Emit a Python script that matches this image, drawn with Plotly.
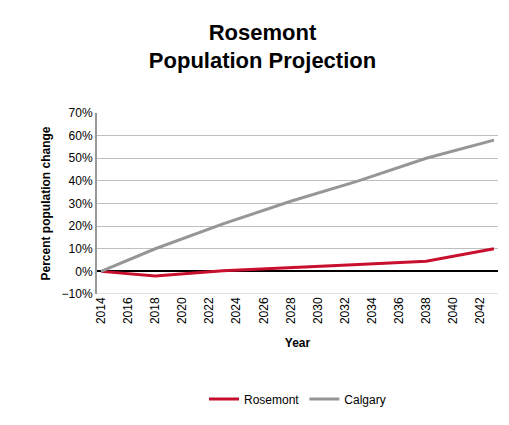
import plotly.graph_objects as go

years = [2014, 2018, 2023, 2028, 2033, 2038, 2043]
rosemont = [0, -2, 0.3, 1.5, 3, 4.5, 10]
calgary = [0, 10, 21, 31, 40, 50, 58]
tick_years = list(range(2014, 2043, 2))

fig = go.Figure()
fig.add_trace(go.Scatter(x=years, y=rosemont, name="Rosemont", mode="lines",
                         line=dict(color="#C8102E", width=3)))
fig.add_trace(go.Scatter(x=years, y=calgary, name="Calgary", mode="lines",
                         line=dict(color="#969696", width=3)))
fig.update_layout(
    width=509, height=425, plot_bgcolor="white", paper_bgcolor="white",
    font=dict(family="Liberation Sans", size=12, color="black"),
    title=dict(text="<b>Rosemont<br>Population Projection</b>", x=0.5, xanchor="center",
               y=0.925, yanchor="top", font=dict(size=22)),
    margin=dict(l=89, r=19, t=105, b=139, autoexpand=False),
    legend=dict(orientation="h", x=0.5, xanchor="center", y=-0.5, yanchor="top", font=dict(size=12)),
    xaxis=dict(range=[2013.7, 2043.3], tickvals=tick_years, ticktext=[str(y) for y in tick_years],
               tickangle=-90, showgrid=False, showline=False, zeroline=False, ticks="",
               automargin=False,
               title=dict(text="<b>Year</b>", font=dict(size=12))),
    yaxis=dict(range=[-10, 70], dtick=10, ticksuffix="%", showgrid=True, gridcolor="#BFBFBF",
               showline=True, linecolor="#999999", linewidth=2, zeroline=True, zerolinecolor="black",
               zerolinewidth=1.5, automargin=False,
               title=dict(text="<b>Percent population change</b>", font=dict(size=12), standoff=8)),
)
fig.add_shape(type="line", xref="paper", yref="y", x0=0, x1=1, y0=-10, y1=-10,
              line=dict(color="#BFBFBF", width=1))
fig.write_html("out.html")
